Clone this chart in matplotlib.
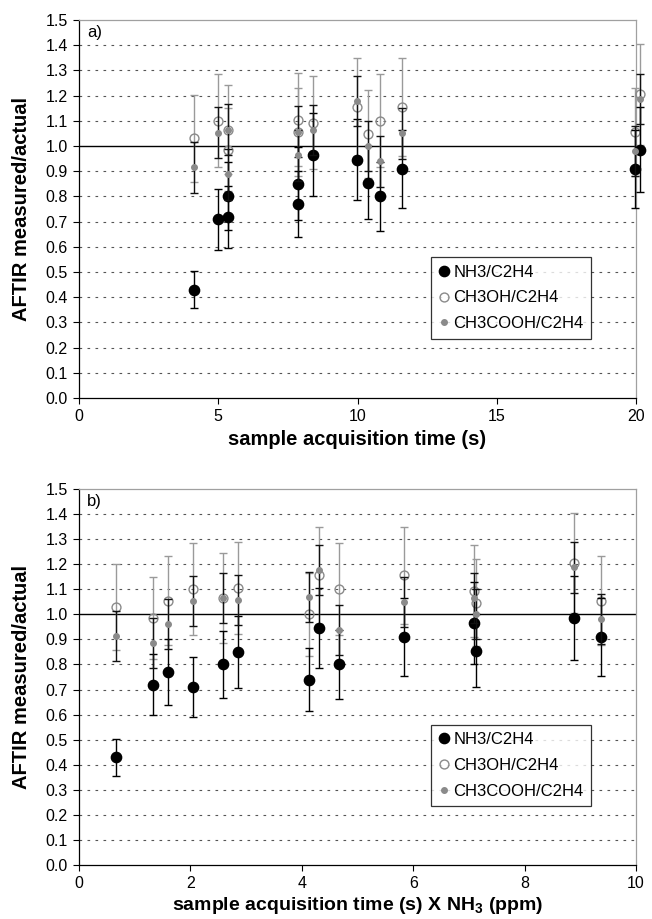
import numpy as np
import matplotlib
matplotlib.use("Agg")
import matplotlib.pyplot as plt
from matplotlib.lines import Line2D

plt.rcParams['font.family'] = ['Liberation Sans', 'DejaVu Sans']
plt.rcParams['mathtext.fontset'] = 'custom'
plt.rcParams['mathtext.rm'] = 'Liberation Sans'
plt.rcParams['mathtext.bf'] = 'Liberation Sans:bold'

# ---- data (one entry per sample) ----
# panel b x: sample acquisition time (s) x NH3 (ppm)
x_time_ppm = [0.66, 1.32, 1.60, 2.05, 2.59, 2.86, 4.13, 4.31, 4.67, 5.83, 7.09, 7.12, 8.89, 9.38]
# panel a x: sample acquisition time (s); NaN = outside the 0-20 s range shown
x_time = [4.14, 5.36, 7.87, 4.98, 5.36, 7.87, np.nan, 9.99, 10.81, 11.61, 8.41, 10.39, 20.15, 19.96]

nh3 = [0.43, 0.72, 0.77, 0.71, 0.80, 0.85, 0.74, 0.945, 0.80, 0.91, 0.965, 0.855, 0.985, 0.91]
nh3_err = [0.073, 0.123, 0.131, 0.121, 0.135, 0.145, 0.126, 0.161, 0.136, 0.155, 0.164, 0.146, 0.168, 0.155]

ch3oh = [1.03, 0.985, 1.055, 1.10, 1.065, 1.105, 1.00, 1.155, 1.10, 1.155, 1.093, 1.047, 1.205, 1.055]
ch3oh_err = [0.172, 0.164, 0.176, 0.184, 0.178, 0.184, 0.166, 0.193, 0.184, 0.193, 0.183, 0.175, 0.20, 0.176]

ch3cooh = [0.915, 0.887, 0.963, 1.053, 1.065, 1.057, 1.069, 1.178, 0.939, 1.05, 1.064, 1.0, 1.187, 0.98]
ch3cooh_err = [0.10, 0.10, 0.10, 0.10, 0.10, 0.10, 0.10, 0.10, 0.10, 0.10, 0.10, 0.10, 0.10, 0.10]

series_labels = ['NH3/C2H4', 'CH3OH/C2H4', 'CH3COOH/C2H4']
y_ticks = [round(0.1 * i, 1) for i in range(16)]

GRAY_BAR = '#9a9a9a'
GRAY_MK = '#8a8a8a'

fig = plt.figure(figsize=(6.52, 9.19), dpi=100)
ax_a = fig.add_axes([79/652, 1-398/919, 557/652, 378/919])
ax_b = fig.add_axes([79/652, 1-865/919, 557/652, 376/919])


def draw(ax, xs, xlim, xticks, xlabel, tag, clip, xlab_y, xlab_size):
    xs = np.asarray(xs, float)
    m = ~np.isnan(xs)
    def sel(v):
        return np.asarray(v, float)[m]
    x = xs[m]
    ek = dict(ls='none', capsize=2.8, elinewidth=1.0, capthick=1.0, clip_on=clip)
    ax.errorbar(x, sel(ch3oh), yerr=sel(ch3oh_err), ecolor=GRAY_BAR, marker='o', ms=6.4,
                mfc='none', mec=GRAY_MK, mew=1.0, zorder=3, **ek)
    ax.errorbar(x, sel(nh3), yerr=sel(nh3_err), ecolor='black', marker='o', ms=7.4,
                mfc='black', mec='black', zorder=4, **ek)
    ax.errorbar(x, sel(ch3cooh), yerr=sel(ch3cooh_err), ecolor='#111111', marker='o', ms=4.0,
                mfc=GRAY_MK, mec=GRAY_MK, zorder=5, **ek)

    ax.set_xlim(*xlim)
    ax.set_ylim(0, 1.5)
    ax.set_xticks(xticks)
    ax.set_yticks(y_ticks)
    ax.set_yticklabels([f'{v:.1f}' for v in y_ticks])
    for v in y_ticks[1:-1]:
        if abs(v - 1.0) < 1e-9:
            continue
        ax.axhline(v, color='#555555', lw=0.8, ls=(0, (2.4, 4.8)), zorder=1)
    ax.axhline(1.0, color='black', lw=1.0, zorder=2)
    ax.tick_params(axis='both', direction='out', length=4, width=0.8, labelsize=11.5,
                   colors='black', pad=4)
    ax.spines['top'].set_color('#a0a0a0')
    ax.spines['right'].set_color('#a0a0a0')
    ax.spines['left'].set_color('black')
    ax.spines['bottom'].set_color('black')
    for s in ax.spines.values():
        s.set_linewidth(0.9)
    ax.set_xlabel(xlabel, fontsize=xlab_size, fontweight='bold')
    ax.set_ylabel('AFTIR measured/actual', fontsize=14.5, fontweight='bold')
    ax.xaxis.set_label_coords(0.5, xlab_y)
    ax.yaxis.set_label_coords(-0.086, 0.5)
    ax.text(0.014, 0.988, tag, transform=ax.transAxes, ha='left', va='top', fontsize=12)

    handles = [
        Line2D([], [], ls='none', marker='o', ms=7.4, mfc='black', mec='black'),
        Line2D([], [], ls='none', marker='o', ms=6.4, mfc='none', mec=GRAY_MK, mew=1.0),
        Line2D([], [], ls='none', marker='o', ms=4.0, mfc=GRAY_MK, mec=GRAY_MK),
    ]
    leg = ax.legend(handles, series_labels, loc='upper left', bbox_to_anchor=(0.632, 0.373),
                    fontsize=12, frameon=True, fancybox=False, edgecolor='black',
                    handlelength=0.6, handletextpad=0.3, borderpad=0.45, labelspacing=0.65,
                    borderaxespad=0)
    leg.get_frame().set_linewidth(0.9)
    leg.set_zorder(10)


draw(ax_a, x_time, (0, 20), [0, 5, 10, 15, 20], 'sample acquisition time (s)', 'a)', False,
     -0.085, 14.5)
draw(ax_b, x_time_ppm, (0, 10), [0, 2, 4, 6, 8, 10],
     r'sample acquisition time (s) X NH$_{\mathbf{3}}$ (ppm)', 'b)', True, -0.079, 14)

fig.savefig('out.png', dpi=100)
